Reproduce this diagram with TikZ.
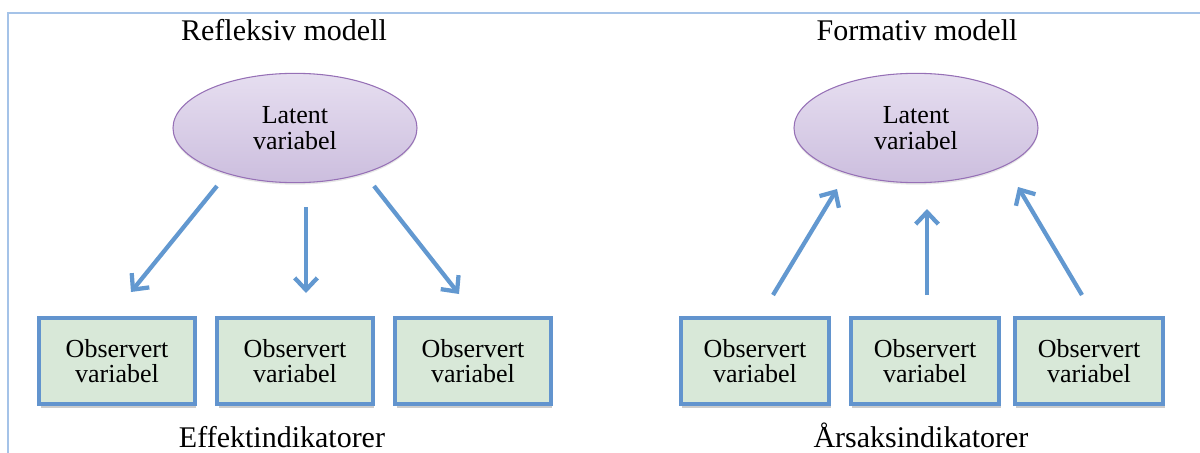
\documentclass[tikz,border=0pt]{standalone}
\usepackage{fontspec}
\setmainfont{Liberation Serif}
\usetikzlibrary{shapes.geometric,arrows.meta,shadows}
\definecolor{frameblue}{RGB}{165,195,232}
\definecolor{boxfill}{RGB}{216,232,216}
\definecolor{boxline}{RGB}{98,148,206}
\definecolor{arrowblue}{RGB}{98,152,208}
\definecolor{elltop}{RGB}{230,222,240}
\definecolor{ellbot}{RGB}{204,190,222}
\definecolor{ellline}{RGB}{150,112,182}
\tikzset{
  latent/.style={ellipse, draw=ellline, line width=0.8pt, top color=elltop, bottom color=ellbot,
    minimum width=183pt, minimum height=82pt, inner sep=0pt, align=center,
    font=\fontsize{19.5}{19}\selectfont,
    drop shadow={shadow xshift=0pt, shadow yshift=-1.5pt, opacity=0.2}},
  obsbox/.style={rectangle, draw=boxline, line width=3.2pt, fill=boxfill,
    minimum height=65pt, inner sep=0pt, align=center,
    font=\fontsize{19.5}{19}\selectfont,
    drop shadow={shadow xshift=1.2pt, shadow yshift=-2.5pt, opacity=0.4}},
  title/.style={font=\fontsize{22.5}{25}\selectfont, inner sep=0pt, anchor=base},
  link/.style={draw=arrowblue, line width=3.2pt, -{Straight Barb[length=9pt,width=17pt,line width=3.2pt]}}
}
\begin{document}
\begin{tikzpicture}[x=0.75pt,y=-0.75pt]
\useasboundingbox (0,0) rectangle (1200,453);
% frame
\coordinate (fbl) at (8,453);
\coordinate (ftl) at (8,13);
\coordinate (ftr) at (1200,13);
\draw[frameblue, line width=1.2pt] (fbl) -- (ftl) -- (ftr);

% titles
\node[title] (t1) at (284,41) {Refleksiv modell};
\node[title] (t2) at (917,41) {Formativ modell};
\node[title] (b1) at (282,447) {Effektindikatorer};
\node[title] (b2) at (921,447) {Årsaksindikatorer};

% latent variables
\node[latent] (L1) at (295,128) {Latent\\variabel};
\node[latent] (L2) at (916,128) {Latent\\variabel};

% observed variables
\node[obsbox, minimum width=116.5pt] (o1) at (117,361) {Observert\\variabel};
\node[obsbox, minimum width=116.5pt] (o2) at (295,361) {Observert\\variabel};
\node[obsbox, minimum width=116.5pt] (o3) at (473,361) {Observert\\variabel};
\node[obsbox, minimum width=111.5pt] (p1) at (755,361) {Observert\\variabel};
\node[obsbox, minimum width=111.5pt] (p2) at (925,361) {Observert\\variabel};
\node[obsbox, minimum width=111.5pt] (p3) at (1089,361) {Observert\\variabel};

% arrow end points
\coordinate (a1s) at (217,186); \coordinate (a1e) at (131,292);
\coordinate (a2s) at (306,207); \coordinate (a2e) at (306,293);
\coordinate (a3s) at (374,186); \coordinate (a3e) at (459,294);
\coordinate (b1s) at (773,295); \coordinate (b1e) at (837,189);
\coordinate (b2s) at (927,295); \coordinate (b2e) at (927,209);
\coordinate (b3s) at (1082,295); \coordinate (b3e) at (1018,187);

\draw[link] (a1s) -- (a1e);
\draw[link] (a2s) -- (a2e);
\draw[link] (a3s) -- (a3e);
\draw[link] (b1s) -- (b1e);
\draw[link] (b2s) -- (b2e);
\draw[link] (b3s) -- (b3e);
\end{tikzpicture}
\end{document}
